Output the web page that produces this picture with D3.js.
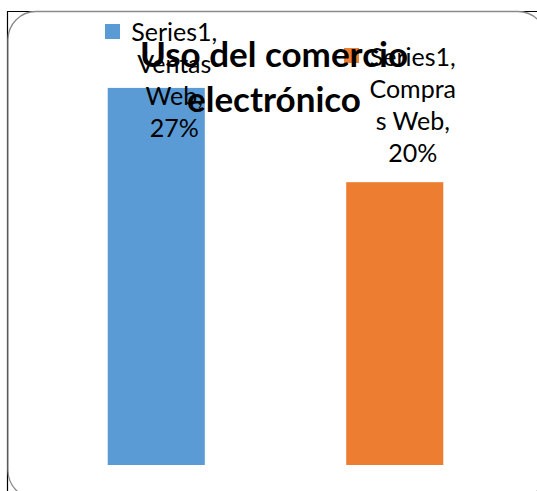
<!DOCTYPE html>
<html><head><meta charset="utf-8">
<script src="https://cdn.jsdelivr.net/npm/d3@7"></script>
<style>body{margin:0;background:#fff}</style></head><body>
<script>
const titleLines = ["Uso del comercio", "electrónico"];
const seriesName = "Series1";
const categories = ["Ventas Web", "Compras Web"];
const values = [0.27, 0.2025];
const colors = ["#5B9BD5", "#ED7D31"];
const labelLines = [["Series1,", "Ventas", "Web,", "27%"], ["Series1,", "Compra", "s Web,", "20%"]];

const W = 537, H = 491;
const svg = d3.select("body").append("svg").attr("width", W).attr("height", H);
const font = "Lato, 'Open Sans', sans-serif";

// frame
svg.append("path").attr("d", "M7.5,491 V11.5 H537").attr("fill", "none").attr("stroke", "#000").attr("stroke-width", 1.2);
svg.append("rect").attr("x", 8).attr("y", 11.5).attr("width", 538).attr("height", 487).attr("rx", 28)
  .attr("fill", "#fff").attr("stroke", "#8a8a8a").attr("stroke-width", 1.3);

const x = d3.scaleBand().domain(categories).range([37, 514]).paddingInner(0.593).paddingOuter(0.2965);
const y = d3.scaleLinear().domain([0, 0.30]).range([465, 46]);

const data = categories.map((c, i) => ({cat: c, v: values[i], color: colors[i], lines: labelLines[i]}));

svg.append("g").selectAll("rect").data(data).join("rect")
  .attr("x", d => x(d.cat)).attr("width", x.bandwidth())
  .attr("y", d => y(d.v)).attr("height", d => y(0) - y(d.v))
  .attr("fill", d => d.color);

// legend squares
const legendPos = [[105, 24], [344, 48]];
svg.append("g").selectAll("rect").data(data).join("rect")
  .attr("x", (d, i) => legendPos[i][0]).attr("y", (d, i) => legendPos[i][1])
  .attr("width", 15).attr("height", 15).attr("fill", d => d.color);

// data labels
const lh = 32;
const lg = svg.append("g").attr("font-family", font).attr("font-size", 25).attr("fill", "#000").attr("text-anchor", "middle");
data.forEach(d => {
  let last = y(d.v) - 20;
  let first = last - (d.lines.length - 1) * lh;
  if (first < 41) first = 41;
  const cx = x(d.cat) + x.bandwidth() / 2 + 18;
  d.lines.forEach((t, j) => {
    lg.append("text").attr("x", cx).attr("y", first + j * lh).text(t);
  });
});

// title
const tg = svg.append("g").attr("font-family", font).attr("font-size", 35).attr("font-weight", "bold").attr("fill", "#000").attr("text-anchor", "middle");
titleLines.forEach((t, j) => tg.append("text").attr("x", 274).attr("y", 67 + j * 45).text(t));
</script>
</body></html>
